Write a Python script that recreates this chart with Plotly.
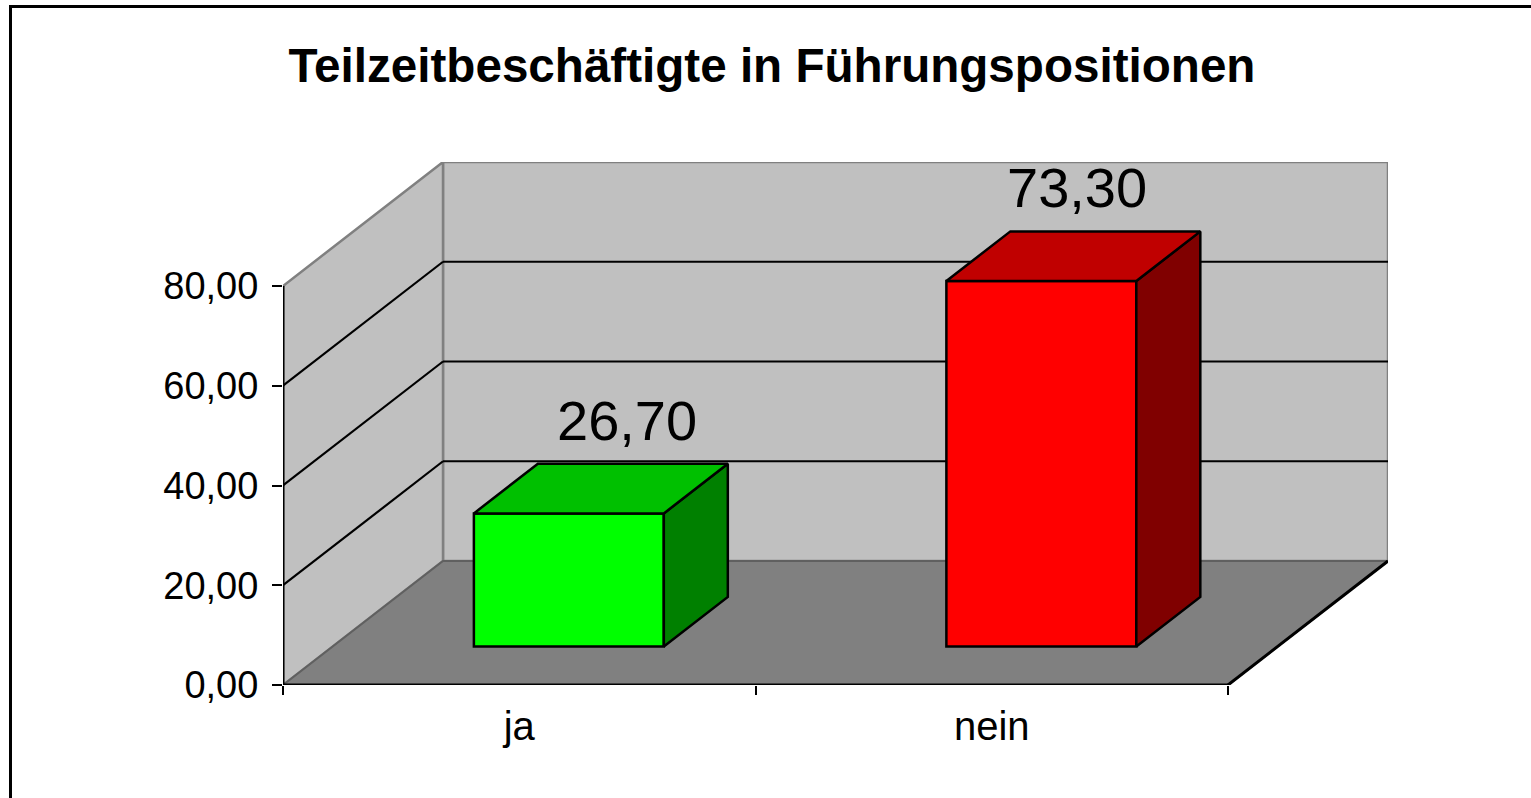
import plotly.graph_objects as go

# ---------------- data ----------------
categories = ["ja", "nein"]
values = [26.70, 73.30]
y_ticks = [0, 20, 40, 60, 80]
y_tick_labels = ["0,00", "20,00", "40,00", "60,00", "80,00"]
title_text = "Teilzeitbeschäftigte in Führungspositionen"

# ---------------- styles / geometry ----------------
FONT = "Liberation Sans, Arial, sans-serif"
W, H = 1531, 798
X0_PX, Y0_PX = 283, 685          # front-left-bottom corner of the 3D box
PX_PER_CAT = 472.5
PX_PER_VAL = 399 / 80
DEPTH_DX_PX, DEPTH_DY_PX = 160, 124

front_colors = ["#00FF00", "#FF0000"]
top_colors = ["#00C000", "#C00000"]
side_colors = ["#008000", "#800000"]
label_xshift = [12, -11]           # fine placement of the value labels (px)
WALL = "#C0C0C0"
FLOOR = "#808080"
EDGE = "#808080"

n = len(categories)
DX = DEPTH_DX_PX / PX_PER_CAT      # depth offset in x data units
DY = DEPTH_DY_PX / PX_PER_VAL      # depth offset in y data units
y_top_tick = max(y_ticks)
x_max = n + DX
y_max = y_top_tick + DY

x_dom = [X0_PX / W, (X0_PX + x_max * PX_PER_CAT) / W]
y_dom = [1 - Y0_PX / H, 1 - (Y0_PX - y_max * PX_PER_VAL) / H]

BAR_W = 0.402
F1, F2 = 0.31, 0.71                # bar front / back depth fractions

fig = go.Figure()

shapes = []
# back wall
shapes.append(dict(type="rect", xref="x", yref="y", x0=DX, x1=x_max, y0=DY, y1=y_max,
                   fillcolor=WALL, line=dict(color=EDGE, width=2.5), layer="below"))
# left wall
shapes.append(dict(type="path", xref="x", yref="y",
                   path=f"M 0,0 L 0,{y_top_tick} L {DX},{y_max} L {DX},{DY} Z",
                   fillcolor=WALL, line=dict(color=EDGE, width=2.5), layer="below"))
# floor
shapes.append(dict(type="path", xref="x", yref="y",
                   path=f"M 0,0 L {n},0 L {n + DX},{DY} L {DX},{DY} Z",
                   fillcolor=FLOOR, line=dict(color="#606060", width=2), layer="below"))
# gridlines (back wall + left wall)
for v in y_ticks[1:-1]:
    shapes.append(dict(type="line", xref="x", yref="y", x0=DX, x1=x_max, y0=v + DY, y1=v + DY,
                       line=dict(color="black", width=2.2), layer="below"))
    shapes.append(dict(type="line", xref="x", yref="y", x0=0, x1=DX, y0=v, y1=v + DY,
                       line=dict(color="black", width=2.2), layer="below"))
# axis lines
shapes.append(dict(type="line", xref="x", yref="y", x0=0, x1=0, y0=0, y1=y_top_tick,
                   line=dict(color="black", width=3), layer="below"))
shapes.append(dict(type="line", xref="x", yref="y", x0=0, x1=n, y0=0, y1=0,
                   line=dict(color="black", width=3), layer="below"))
shapes.append(dict(type="line", xref="x", yref="y", x0=n, x1=n + DX, y0=0, y1=DY,
                   line=dict(color="black", width=3), layer="below"))
# outer frame (only left and top edges are inside the picture)
fx = 10.5 / W
fy = 1 - 6.5 / H
shapes.append(dict(type="path", xref="paper", yref="paper",
                   path=f"M {fx},-0.2 L {fx},{fy} L 1.2,{fy}",
                   line=dict(color="black", width=3), layer="above"))

# 3D bar faces (side and top) from the values
ddx = (F2 - F1) * DX
ddy = (F2 - F1) * DY
for i, v in enumerate(values):
    xl = i + 0.5 - BAR_W / 2 + F1 * DX
    xr = xl + BAR_W
    yb = F1 * DY
    yt = yb + v
    fig.add_trace(go.Scatter(
        x=[xr, xr, xr + ddx, xr + ddx, xr], y=[yb, yt, yt + ddy, yb + ddy, yb],
        mode="lines", fill="toself", fillcolor=side_colors[i],
        line=dict(color="black", width=2.5), hoverinfo="skip", showlegend=False))
    fig.add_trace(go.Scatter(
        x=[xl, xl + ddx, xr + ddx, xr, xl], y=[yt, yt + ddy, yt + ddy, yt, yt],
        mode="lines", fill="toself", fillcolor=top_colors[i],
        line=dict(color="black", width=2.5), hoverinfo="skip", showlegend=False))

# front faces as real bars
fig.add_trace(go.Bar(
    x=[i + 0.5 + F1 * DX for i in range(n)], y=values, base=F1 * DY, width=BAR_W,
    marker=dict(color=front_colors, line=dict(color="black", width=2.5)),
    hovertext=categories, showlegend=False))

annotations = []
for i, v in enumerate(values):
    annotations.append(dict(
        x=i + 0.5 + 0.6 * DX, y=v + F2 * DY, xref="x", yref="y",
        text=f"{v:.2f}".replace(".", ","), showarrow=False, yanchor="bottom",
        xshift=label_xshift[i], yshift=10,
        font=dict(family=FONT, size=56, color="black")))

fig.update_layout(
    width=W, height=H, margin=dict(l=0, r=0, t=0, b=0),
    paper_bgcolor="white", plot_bgcolor="white",
    showlegend=False, shapes=shapes, annotations=annotations,
    title=dict(text=f"<b>{title_text}</b>", x=772 / W, xanchor="center",
               y=1 - 65 / H, yanchor="middle",
               font=dict(family=FONT, size=47.6, color="black")),
    xaxis=dict(domain=x_dom, range=[0, x_max], showgrid=False, zeroline=False,
               showline=False, tickvals=[i + 0.5 for i in range(n)], ticktext=categories,
               ticks="", tickfont=dict(family=FONT, size=40, color="black"),
               ticklabelstandoff=14, automargin=False,
               minor=dict(tickvals=list(range(n + 1)), ticks="outside", ticklen=9,
                          tickwidth=2, tickcolor="black", showgrid=False)),
    yaxis=dict(domain=y_dom, range=[0, y_max], showgrid=False, zeroline=False,
               showline=False, tickvals=y_ticks, ticktext=y_tick_labels,
               ticks="outside", ticklen=10, tickwidth=2, tickcolor="black",
               ticklabelstandoff=6, automargin=False,
               tickfont=dict(family=FONT, size=38, color="black")),
)

fig.write_html("out.html", config={"displayModeBar": False},
               post_script="document.body.style.margin='0';document.body.style.overflow='hidden';")
